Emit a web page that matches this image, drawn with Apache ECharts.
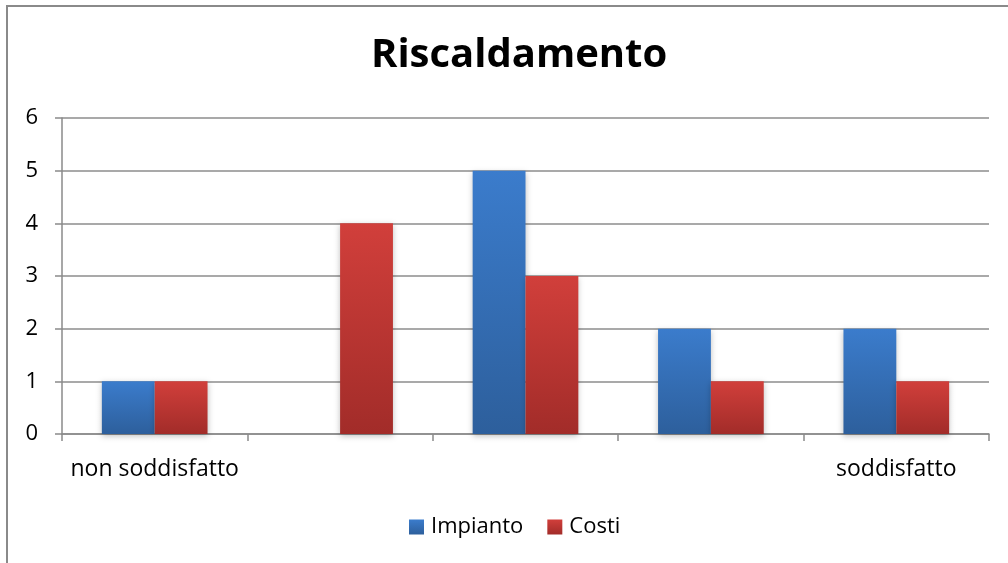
<!DOCTYPE html>
<html>
<head>
<meta charset="utf-8">
<script src="https://cdn.jsdelivr.net/npm/echarts@6/dist/echarts.min.js"></script>
<style>
  html, body { margin: 0; padding: 0; background: #fff; }
  #chart { width: 1008px; height: 563px; }
</style>
</head>
<body>
<div id="chart"></div>
<script>
// Satisfaction scale (1 = not satisfied ... 5 = satisfied)
const categories = ['non soddisfatto', '', '', '', 'soddisfatto'];
const impianto = [1, 0, 5, 2, 2];
const costi = [1, 4, 3, 1, 1];
const seriesNames = ['Impianto', 'Costi'];
const yTicks = { min: 0, max: 6, interval: 1 };

const FONT = '"Open Sans", "Liberation Sans", sans-serif';

function grad(top, bottom) {
  return new echarts.graphic.LinearGradient(0, 0, 0, 1, [
    { offset: 0, color: top },
    { offset: 1, color: bottom }
  ]);
}

const blue = grad('#3b7ccc', '#2d5f9c');
const red = grad('#d13f3b', '#a22c29');

const chart = echarts.init(document.getElementById('chart'), null, { renderer: 'canvas' });

chart.setOption({
  backgroundColor: '#fff',
  animation: false,
  title: {
    text: 'Riscaldamento',
    left: 366,
    top: 31,
    textStyle: { fontFamily: FONT, fontSize: 40, fontWeight: 'bold', color: '#000' }
  },
  legend: {
    bottom: 20,
    left: 404,
    itemWidth: 15,
    itemHeight: 15,
    itemGap: 24,
    icon: 'rect',
    textStyle: { fontFamily: FONT, fontSize: 22, color: '#000', padding: [0, 0, 0, 2] },
    data: seriesNames
  },
  grid: { left: 62, right: 19, top: 118, bottom: 129 },
  xAxis: {
    type: 'category',
    data: categories,
    axisLine: { lineStyle: { color: '#8a8a8a', width: 1.5 } },
    axisTick: { show: true, alignWithLabel: false, length: 7, lineStyle: { color: '#8a8a8a', width: 1.5 } },
    axisLabel: { fontFamily: FONT, fontSize: 23, color: '#000', margin: 24, interval: 0 }
  },
  yAxis: {
    type: 'value',
    min: yTicks.min,
    max: yTicks.max,
    interval: yTicks.interval,
    axisLine: { show: true, lineStyle: { color: '#8a8a8a', width: 1.5 } },
    axisTick: { show: true, length: 7, lineStyle: { color: '#8a8a8a', width: 1.5 } },
    axisLabel: { fontFamily: FONT, fontSize: 22, color: '#000', margin: 24 },
    splitLine: { lineStyle: { color: '#8c8c8c', width: 1.5 } }
  },
  series: [
    {
      name: seriesNames[0],
      type: 'bar',
      data: impianto,
      barGap: '0%',
      barCategoryGap: '43%',
      itemStyle: { color: blue, shadowColor: 'rgba(0,0,0,0.25)', shadowBlur: 6, shadowOffsetY: 2 }
    },
    {
      name: seriesNames[1],
      type: 'bar',
      data: costi,
      barGap: '0%',
      barCategoryGap: '43%',
      itemStyle: { color: red, shadowColor: 'rgba(0,0,0,0.25)', shadowBlur: 6, shadowOffsetY: 2 }
    }
  ],
  graphic: [
    { type: 'line', shape: { x1: 7, y1: 6, x2: 7, y2: 563 }, style: { stroke: '#8a8a8a', lineWidth: 2 }, z: 100 },
    { type: 'line', shape: { x1: 6, y1: 6, x2: 1008, y2: 6 }, style: { stroke: '#8a8a8a', lineWidth: 2 }, z: 100 }
  ]
});
</script>
</body>
</html>
